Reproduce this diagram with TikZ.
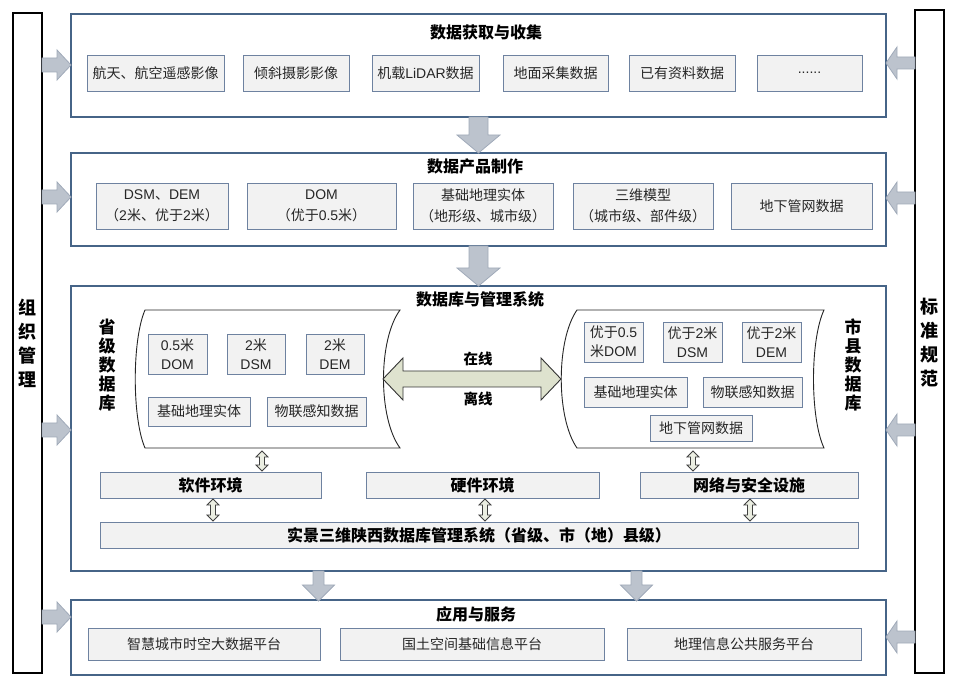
\documentclass[tikz,border=0pt]{standalone}
\usepackage{fontspec}
\setmainfont{Noto Sans CJK SC}
\newfontfamily\lat{Liberation Sans}
\definecolor{obord}{RGB}{70,100,135}
\definecolor{ibord}{RGB}{110,130,160}
\definecolor{ifill}{RGB}{242,242,242}
\definecolor{afill}{RGB}{188,195,205}
\definecolor{adraw}{RGB}{160,170,185}
\definecolor{gfill}{RGB}{222,226,206}
\tikzset{
 outer/.style={draw=obord, line width=1.3pt, fill=white, inner sep=0pt},
 item/.style={draw=ibord, fill=ifill, line width=0.9pt, inner sep=0pt, align=center, font=\fontsize{14}{21}\selectfont, text=black!85},
 sitem/.style={item, font=\fontsize{14}{19}\selectfont},
 rowbox/.style={item, font=\fontsize{16}{18}\selectfont\bfseries, text=black},
 head/.style={font=\fontsize{16}{18}\selectfont\bfseries, inner sep=0pt},
 olab/.style={font=\fontsize{14.5}{16}\selectfont\bfseries, inner sep=0pt},
 vlab/.style={font=\fontsize{18}{24}\selectfont\bfseries, align=center, inner sep=0pt},
 dblab/.style={font=\fontsize{17}{19}\selectfont\bfseries, align=center, inner sep=0pt},
 bar/.style={draw=black, line width=1.3pt, fill=white, inner sep=0pt},
 blk/.style={fill=afill, draw=adraw, line width=0.8pt},
 hol/.style={fill=gfill!60!white, draw=black!75, line width=0.8pt},
 big/.style={fill=gfill, draw=black!80, line width=0.9pt},
 scroll/.style={draw=black!85, line width=0.9pt, fill=white},
}
% node box by corners: style, name, x1, y1, x2, y2, text
\newcommand\bx[7]{\node[#1, minimum width={#5-#3}, minimum height={#6-#4}] (#2) at ({(#3+#5)/2},{(#4+#6)/2}) {#7};}
% down block arrow: cx, ytop, ybot, shaftHalf, headHalf, headLen
\newcommand\arrD[6]{\filldraw[blk] (#1-#4,#2) -- (#1+#4,#2) -- (#1+#4,#3-#6) -- (#1+#5,#3-#6) -- (#1,#3) -- (#1-#5,#3-#6) -- (#1-#4,#3-#6) -- cycle;}
% right block arrow: cy, xleft, xright(tip), shaftHalf, headHalf, headLen
\newcommand\arrR[6]{\filldraw[blk] (#2,#1-#4) -- (#3-#6,#1-#4) -- (#3-#6,#1-#5) -- (#3,#1) -- (#3-#6,#1+#5) -- (#3-#6,#1+#4) -- (#2,#1+#4) -- cycle;}
% left block arrow: cy, xleft(tip), xright, shaftHalf, headHalf, headLen
\newcommand\arrL[6]{\filldraw[blk] (#3,#1-#4) -- (#2+#6,#1-#4) -- (#2+#6,#1-#5) -- (#2,#1) -- (#2+#6,#1+#5) -- (#2+#6,#1+#4) -- (#3,#1+#4) -- cycle;}
% vertical double hollow arrow: cx, ytop, ybot, shaftHalf, headHalf, headLen
\newcommand\arrUD[6]{\filldraw[hol] (#1,#2) -- (#1+#5,#2+#6) -- (#1+#4,#2+#6) -- (#1+#4,#3-#6) -- (#1+#5,#3-#6) -- (#1,#3) -- (#1-#5,#3-#6) -- (#1-#4,#3-#6) -- (#1-#4,#2+#6) -- (#1-#5,#2+#6) -- cycle;}
\begin{document}
\begin{tikzpicture}[x=1pt,y=-1pt]
\useasboundingbox (0,0) rectangle (954,684);
% side bars
\bx{bar}{lbar}{13}{13}{42}{673}{}
\bx{bar}{rbar}{915}{10}{944}{673}{}
\node[vlab] (lbl) at (27.5,343) {组\\织\\管\\理};
\node[vlab] (rbl) at (929.5,343) {标\\准\\规\\范};
% outer boxes
\bx{outer}{b1}{71}{14}{886}{117}{}
\bx{outer}{b2}{71}{153}{886}{246}{}
\bx{outer}{b3}{71}{286}{886}{571}{}
\bx{outer}{b4}{71}{600}{886}{675}{}
% side arrows
\arrR{65}{42}{71}{7}{15}{14}
\arrR{197}{42}{71}{7}{15}{14}
\arrR{430}{42}{71}{7}{15}{14}
\arrR{617}{42}{71}{7}{15}{14}
\arrL{63}{886}{915}{6}{16}{11}
\arrL{198}{886}{915}{6}{16}{11}
\arrL{430}{886}{915}{6}{16}{11}
\arrL{637}{886}{915}{6}{16}{11}
% down arrows
\arrD{478.5}{117}{153}{9.5}{21.5}{18}
\arrD{478.5}{246}{286}{9.5}{21.5}{18}
\arrD{318.5}{571}{601}{5.5}{16}{16}
\arrD{636.5}{571}{601}{5.5}{16}{16}
% box 1
\node[head] (t1) at (486,32) {数据获取与收集};
\bx{item}{a1}{87}{55}{224}{91}{航天、航空遥感影像}
\bx{item}{a2}{243}{55}{349}{91}{倾斜摄影影像}
\bx{item}{a3}{372}{55}{479}{91}{机载{\lat LiDAR}数据}
\bx{item}{a4}{503}{55}{608}{91}{地面采集数据}
\bx{item}{a5}{629}{55}{735}{91}{已有资料数据}
\bx{item}{a6}{757}{55}{862}{91}{{\lat ......}}
% box 2
\node[head] (t2) at (475,166) {数据产品制作};
\bx{item}{p1}{96}{183}{228}{229}{{\lat DSM}、{\lat DEM}\\（{\lat 2}米、优于{\lat 2}米）}
\bx{item}{p2}{247}{183}{396}{229}{{\lat DOM}\\（优于{\lat 0.5}米）}
\bx{item}{p3}{413}{183}{553}{229}{基础地理实体\\（地形级、城市级）}
\bx{item}{p4}{573}{183}{713}{229}{三维模型\\（城市级、部件级）}
\bx{item}{p5}{731}{183}{872}{229}{地下管网数据}
% box 3
\node[head] (t3) at (480,299) {数据库与管理系统};
\draw[scroll] (145,310) -- (400,310) .. controls (378,340) and (378,418) .. (400,448) -- (145,448) .. controls (132,418) and (132,340) .. cycle;
\draw[scroll] (577,310) -- (824,310) .. controls (810,340) and (810,418) .. (824,448) -- (577,448) .. controls (556,418) and (556,340) .. cycle;
\node[dblab] (lsl) at (107,365) {省\\级\\数\\据\\库};
\node[dblab] (rsl) at (853,365) {市\\县\\数\\据\\库};
\bx{sitem}{l1}{148}{334}{207}{374}{{\lat 0.5}米\\{\lat DOM}}
\bx{sitem}{l2}{227}{334}{285}{374}{{\lat 2}米\\{\lat DSM}}
\bx{sitem}{l3}{306}{334}{364}{374}{{\lat 2}米\\{\lat DEM}}
\bx{sitem}{l4}{148}{397}{250}{426}{基础地理实体}
\bx{sitem}{l5}{267}{397}{366}{426}{物联感知数据}
\bx{sitem}{r1}{584}{322}{643}{362}{优于{\lat 0.5}\\米{\lat DOM}}
\bx{sitem}{r2}{663}{322}{722}{362}{优于{\lat 2}米\\{\lat DSM}}
\bx{sitem}{r3}{742}{322}{801}{362}{优于{\lat 2}米\\{\lat DEM}}
\bx{sitem}{r4}{584}{377}{687}{407}{基础地理实体}
\bx{sitem}{r5}{703}{377}{802}{407}{物联感知数据}
\bx{sitem}{r6}{650}{415}{752}{441}{地下管网数据}
% big double arrow
\filldraw[big] (383,379) -- (403,358) -- (403,371) -- (541,371) -- (541,358) -- (561,379) -- (541,400) -- (541,387) -- (403,387) -- (403,400) -- cycle;
\node[olab] (on) at (478,359) {在线};
\node[olab] (off) at (478,399) {离线};
% rows
\bx{rowbox}{sw}{100}{472}{321}{498}{软件环境}
\bx{rowbox}{hw}{366}{472}{599}{498}{硬件环境}
\bx{rowbox}{nw}{640}{472}{858}{498}{网络与安全设施}
\bx{rowbox}{sys}{100}{522}{858}{548}{实景三维陕西数据库管理系统（省级、市（地）县级）}
\arrUD{262}{451}{471}{2.5}{6}{6}
\arrUD{693}{451}{471}{2.5}{6}{6}
\arrUD{213}{499}{521}{2.5}{6}{6}
\arrUD{485}{499}{521}{2.5}{6}{6}
\arrUD{750}{499}{521}{2.5}{6}{6}
% box 4
\node[head] (t4) at (476,614) {应用与服务};
\bx{item}{s1}{88}{628}{320}{660}{智慧城市时空大数据平台}
\bx{item}{s2}{340}{628}{604}{660}{国土空间基础信息平台}
\bx{item}{s3}{627}{628}{861}{660}{地理信息公共服务平台}
\end{tikzpicture}
\end{document}
